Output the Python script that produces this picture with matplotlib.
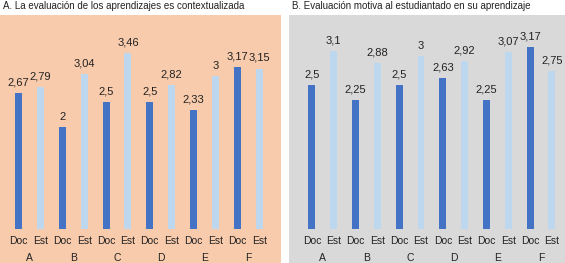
import matplotlib
matplotlib.use("Agg")
import matplotlib.pyplot as plt
from matplotlib.patches import Rectangle
from matplotlib import transforms

plt.rcParams["font.family"] = ["Liberation Sans", "DejaVu Sans"]

# ── datos ────────────────────────────────────────────────
categorias = ["A", "B", "C", "D", "E", "F"]
series = ["Doc", "Est"]
doc_a = [2.67, 2.0, 2.5, 2.5, 2.33, 3.17]
est_a = [2.79, 3.04, 3.46, 2.82, 3.0, 3.15]
doc_b = [2.5, 2.25, 2.5, 2.63, 2.25, 3.17]
est_b = [3.1, 2.88, 3.0, 2.92, 3.07, 2.75]

titulo_a = "A. La evaluación de los aprendizajes es contextualizada"
titulo_b = "B. Evaluación motiva al estudiantado en su aprendizaje"

C_DOC = "#4472C4"
C_EST = "#BDD7EE"

W, H = 565, 263
fig = plt.figure(figsize=(W / 100, H / 100), dpi=100)
fig.patch.set_facecolor("white")


def fmt(v):
    s = f"{v:.2f}".rstrip("0").rstrip(".")
    return s.replace(".", ",")


def panel(x0, x1, bg, titulo, doc, est, ymax, xlim):
    # fondo del gráfico
    fig.add_artist(Rectangle((x0 / W, 0), (x1 - x0) / W, 1 - 15 / H,
                             transform=fig.transFigure, facecolor=bg,
                             edgecolor="none", zorder=0))
    fig.text(x0 / W + 3 / W, 1 - 6 / H, titulo, ha="left", va="center",
             fontsize=7, color="#222222")
    ax = fig.add_axes([x0 / W, 34 / H, (x1 - x0) / W, 1 - 15 / H - 34 / H])
    ax.patch.set_alpha(0)
    pos_doc = [2 * i for i in range(len(categorias))]
    pos_est = [2 * i + 1 for i in range(len(categorias))]
    b1 = ax.bar(pos_doc, doc, width=0.32, color=C_DOC)
    b2 = ax.bar(pos_est, est, width=0.32, color=C_EST)
    for bars, vals in ((b1, doc), (b2, est)):
        for r, v in zip(bars, vals):
            ax.annotate(fmt(v), (r.get_x() + r.get_width() / 2, v),
                        xytext=(0, 4), textcoords="offset points",
                        ha="center", va="bottom", fontsize=8, color="#222222")
    ax.set_ylim(0, ymax)
    ax.set_xlim(*xlim)
    ax.set_yticks([])
    ax.set_xticks(pos_doc + pos_est)
    ax.set_xticklabels(series[:1] * len(pos_doc) + series[1:] * len(pos_est))
    ax.tick_params(axis="x", length=0, labelsize=7.5, pad=5, colors="#222222")
    for s in ax.spines.values():
        s.set_visible(False)
    trans = transforms.blended_transform_factory(ax.transData, ax.transAxes)
    for i, c in enumerate(categorias):
        ax.text(2 * i + 0.5, -29 / ((1 - 49 / H) * H), c, transform=trans,
                ha="center", va="center", fontsize=7.5, color="#222222")
    return ax


panel(0, 281, "#F8CBAD", titulo_a, doc_a, est_a, 4.2, (-0.85, 12.0))
panel(289, 565, "#D9D9D9", titulo_b, doc_b, est_b, 3.72, (-1.05, 11.6))

fig.savefig("out.png", dpi=100, facecolor=fig.get_facecolor())
plt.close()
